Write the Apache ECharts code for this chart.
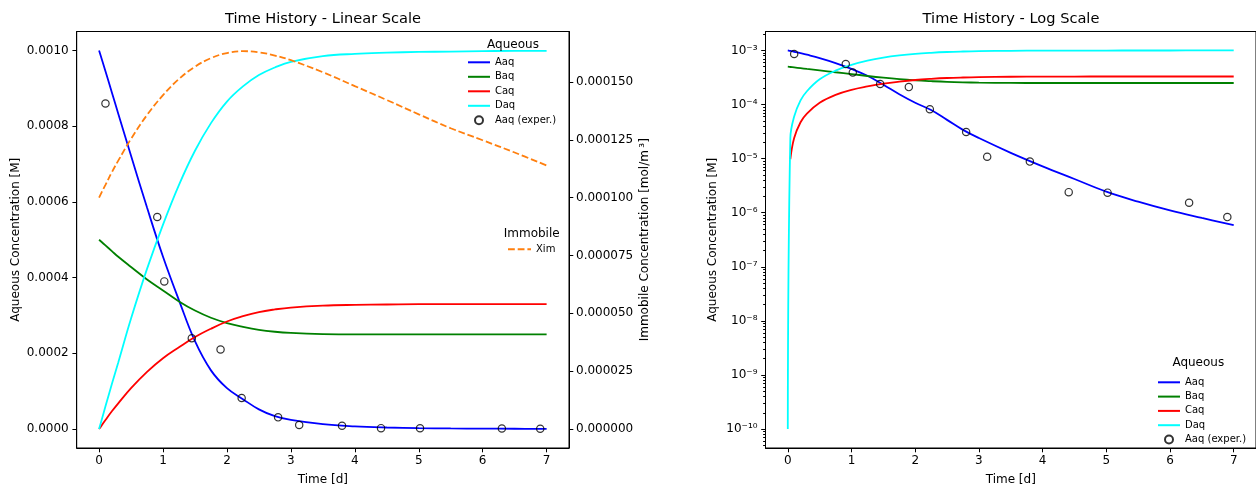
<!DOCTYPE html>
<html>
<head>
<meta charset="utf-8">
<title>Time History</title>
<script src="https://cdn.jsdelivr.net/npm/echarts@6/dist/echarts.min.js"></script>
<style>
  html, body { margin: 0; padding: 0; background: #fff; }
  #chart { width: 1256px; height: 491px; }
</style>
</head>
<body>
<div id="chart"></div>
<script>
// model output (time in days)
const days = [0, 0.04, 0.1, 0.2, 0.3, 0.5, 0.75, 1.0, 1.25, 1.5, 1.75, 2.0, 2.25, 2.5, 2.75, 3.0, 3.5, 4.0, 4.5, 5.0, 5.5, 6.0, 6.5, 7.0];
const aaq = [1.0e-3, 9.78e-4, 9.45e-4, 8.89e-4, 8.33e-4, 7.22e-4, 5.85e-4, 4.55e-4, 3.40e-4, 2.32e-4, 1.55e-4, 1.08e-4, 7.9e-5, 5.2e-5, 3.4e-5, 2.4e-5, 1.28e-5, 7.2e-6, 4.2e-6, 2.45e-6, 1.6e-6, 1.1e-6, 8.0e-7, 5.9e-7];
const baq = [5.0e-4, 4.94e-4, 4.85e-4, 4.70e-4, 4.55e-4, 4.28e-4, 3.95e-4, 3.66e-4, 3.37e-4, 3.13e-4, 2.94e-4, 2.80e-4, 2.70e-4, 2.62e-4, 2.57e-4, 2.54e-4, 2.51e-4, 2.50e-4, 2.50e-4, 2.50e-4, 2.50e-4, 2.50e-4, 2.50e-4, 2.50e-4];
const caq = [0, 9.8e-6, 2.4e-5, 4.7e-5, 6.8e-5, 1.08e-4, 1.51e-4, 1.87e-4, 2.16e-4, 2.43e-4, 2.65e-4, 2.84e-4, 2.98e-4, 3.09e-4, 3.16e-4, 3.21e-4, 3.26e-4, 3.28e-4, 3.29e-4, 3.30e-4, 3.30e-4, 3.30e-4, 3.30e-4, 3.30e-4];
const daq = [1e-10, 2.4e-5, 6.0e-5, 1.19e-4, 1.76e-4, 2.92e-4, 4.23e-4, 5.40e-4, 6.45e-4, 7.35e-4, 8.08e-4, 8.65e-4, 9.05e-4, 9.35e-4, 9.55e-4, 9.70e-4, 9.85e-4, 9.91e-4, 9.94e-4, 9.96e-4, 9.97e-4, 9.98e-4, 9.99e-4, 9.99e-4];
const xim = [1.0e-4, 1.023e-4, 1.055e-4, 1.11e-4, 1.16e-4, 1.254e-4, 1.357e-4, 1.443e-4, 1.513e-4, 1.566e-4, 1.603e-4, 1.625e-4, 1.633e-4, 1.628e-4, 1.614e-4, 1.594e-4, 1.542e-4, 1.482e-4, 1.422e-4, 1.36e-4, 1.30e-4, 1.248e-4, 1.195e-4, 1.139e-4];

// measured Aaq
const expDays = [0.1, 0.91, 1.02, 1.45, 1.9, 2.23, 2.8, 3.13, 3.8, 4.41, 5.02, 6.3, 6.9];
const expAaq = [8.6e-4, 5.6e-4, 3.9e-4, 2.4e-4, 2.1e-4, 8.2e-5, 3.1e-5, 1.08e-5, 8.8e-6, 2.4e-6, 2.35e-6, 1.53e-6, 8.3e-7];

// tick labels
const dayTicks = [0, 1, 2, 3, 4, 5, 6, 7];
const aqTicks = [0, 0.0002, 0.0004, 0.0006, 0.0008, 0.0010];
const imTicks = [0, 0.000025, 0.00005, 0.000075, 0.0001, 0.000125, 0.00015];
const logTicks = [1e-10, 1e-9, 1e-8, 1e-7, 1e-6, 1e-5, 1e-4, 1e-3];

const FONT = 'DejaVu Sans';
const black = '#000';
const clear = 'rgba(0,0,0,0)';

// minor ticks of the log axis (2..9 x 10^n)
const logMinor = [];
for (let e = -11; e <= -3; e++) {
    for (let m = 2; m <= 9; m++) logMinor.push(m * Math.pow(10, e));
}

const sup = { '-': '\u207b', '0': '\u2070', '1': '\u00b9', '2': '\u00b2', '3': '\u00b3', '4': '\u2074', '5': '\u2075', '6': '\u2076', '7': '\u2077', '8': '\u2078', '9': '\u2079' };
function powLabel(v) {
    const e = String(Math.round(Math.log10(v)));
    return '10' + e.split('').map(c => sup[c]).join('');
}

function pairs(xs, ys, positiveOnly) {
    const out = [];
    xs.forEach((x, i) => {
        if (!positiveOnly || ys[i] > 0) out.push([x, ys[i]]);
    });
    return out;
}

const chart = echarts.init(document.getElementById('chart'));

const axisLine = { show: true, onZero: false, lineStyle: { color: black, width: 1 } };
const tickStyle = { color: black, width: 1 };
const labelStyle = { color: black, fontSize: 12, fontFamily: FONT };
const nameStyle = { color: black, fontSize: 12, fontFamily: FONT };

function lineSeries(name, xi, yi, data, color, dash) {
    return {
        name: name,
        type: 'line',
        xAxisIndex: xi,
        yAxisIndex: yi,
        data: data,
        symbol: 'none',
        smooth: 0.4,
        lineStyle: { color: color, width: 1.8, type: dash || 'solid' },
        // transparent item colour keeps the legend icon a plain line
        itemStyle: { color: clear, borderColor: clear },
        z: 3
    };
}

function expSeries(xi, yi, data) {
    return {
        name: 'Aaq (exper.)',
        type: 'scatter',
        xAxisIndex: xi,
        yAxisIndex: yi,
        data: data,
        symbol: 'circle',
        symbolSize: 7.3,
        itemStyle: { color: clear, borderColor: black, borderWidth: 1.2 },
        z: 4
    };
}

const legendText = { color: black, fontSize: 10, lineHeight: 12, fontFamily: FONT };

var option = {
    animation: false,
    textStyle: { fontFamily: FONT },
    grid: [
        { left: 76.7, top: 31.5, width: 492.3, height: 421.7, show: true, borderColor: black, borderWidth: 1 },
        { left: 765.5, top: 31.5, width: 492.3, height: 421.7, show: true, borderColor: black, borderWidth: 1 }
    ],
    xAxis: [0, 1].map(g => ({
        gridIndex: g,
        type: 'value',
        min: -0.35,
        max: 7.35,
        axisLine: axisLine,
        axisTick: { customValues: dayTicks, length: 4.3, lineStyle: tickStyle },
        axisLabel: Object.assign({ customValues: dayTicks, margin: 7 }, labelStyle),
        splitLine: { show: false },
        name: 'Time [d]',
        nameLocation: 'middle',
        nameGap: 26,
        nameTextStyle: nameStyle
    })),
    yAxis: [
        {
            gridIndex: 0,
            type: 'value',
            min: -0.00005,
            max: 0.00105,
            axisLine: axisLine,
            axisTick: { customValues: aqTicks, length: 4.3, lineStyle: tickStyle },
            axisLabel: Object.assign({ customValues: aqTicks, margin: 8, formatter: v => v.toFixed(4) }, labelStyle),
            splitLine: { show: false },
            name: 'Aqueous Concentration [M]',
            nameLocation: 'middle',
            nameRotate: 90,
            nameGap: 55,
            nameTextStyle: nameStyle
        },
        {
            gridIndex: 0,
            type: 'value',
            position: 'right',
            min: -0.0000082,
            max: 0.0001718,
            axisLine: axisLine,
            axisTick: { customValues: imTicks, length: 4.3, lineStyle: tickStyle },
            axisLabel: Object.assign({ customValues: imTicks, margin: 7, formatter: v => v.toFixed(6) }, labelStyle),
            splitLine: { show: false },
            name: 'Immobile Concentration [mol/m\u2009\u00b3]',
            nameLocation: 'middle',
            nameRotate: 90,
            nameGap: 70,
            nameTextStyle: nameStyle
        },
        {
            gridIndex: 1,
            type: 'log',
            logBase: 10,
            min: Math.pow(10, -10.35),
            max: Math.pow(10, -2.65),
            axisLine: axisLine,
            axisTick: { customValues: logTicks, length: 4.3, lineStyle: tickStyle },
            axisLabel: Object.assign({ customValues: logTicks, margin: 8, formatter: powLabel }, labelStyle),
            splitLine: { show: false },
            name: 'Aqueous Concentration [M]',
            nameLocation: 'middle',
            nameRotate: 90,
            nameGap: 47,
            nameTextStyle: nameStyle
        },
        {
            // minor ticks only
            gridIndex: 1,
            type: 'log',
            logBase: 10,
            position: 'left',
            min: Math.pow(10, -10.35),
            max: Math.pow(10, -2.65),
            axisLine: { show: false, onZero: false },
            axisTick: { customValues: logMinor, length: 2.4, lineStyle: tickStyle },
            axisLabel: { show: false },
            splitLine: { show: false }
        }
    ],
    legend: [
        {
            data: ['Aaq', 'Baq', 'Caq', 'Daq', 'Aaq (exper.)'],
            orient: 'vertical', left: 467, top: 56.3, padding: 0,
            itemWidth: 22, itemHeight: 8, itemGap: 2.5,
            selectedMode: false, textStyle: legendText
        },
        {
            data: ['Xim'],
            orient: 'vertical', left: 507, top: 243.3, padding: 0,
            itemWidth: 23, itemHeight: 8,
            selectedMode: false, textStyle: legendText
        },
        {
            data: ['Aaq', 'Baq', 'Caq', 'Daq', 'Aaq (exper.)'],
            orient: 'vertical', left: 1157, top: 376.3, padding: 0,
            itemWidth: 22, itemHeight: 8, itemGap: 2.3,
            selectedMode: false, textStyle: legendText
        }
    ],
    graphic: [
        { type: 'text', x: 323, y: 19.3, z: 100, style: { text: 'Time History - Linear Scale', align: 'center', verticalAlign: 'middle', fontSize: 14.6, fontFamily: FONT, fill: black } },
        { type: 'text', x: 1011, y: 19.3, z: 100, style: { text: 'Time History - Log Scale', align: 'center', verticalAlign: 'middle', fontSize: 14.6, fontFamily: FONT, fill: black } },
        { type: 'text', x: 513, y: 45, z: 100, style: { text: 'Aqueous', align: 'center', verticalAlign: 'middle', fontSize: 12, fontFamily: FONT, fill: black } },
        { type: 'text', x: 531.7, y: 234, z: 100, style: { text: 'Immobile', align: 'center', verticalAlign: 'middle', fontSize: 12, fontFamily: FONT, fill: black } },
        { type: 'text', x: 1198.3, y: 363.3, z: 100, style: { text: 'Aqueous', align: 'center', verticalAlign: 'middle', fontSize: 12, fontFamily: FONT, fill: black } }
    ],
    series: [
        // linear scale
        lineSeries('Aaq', 0, 0, pairs(days, aaq), '#0000ff'),
        lineSeries('Baq', 0, 0, pairs(days, baq), '#008000'),
        lineSeries('Caq', 0, 0, pairs(days, caq), '#ff0000'),
        lineSeries('Daq', 0, 0, pairs(days, daq), '#00ffff'),
        expSeries(0, 0, pairs(expDays, expAaq)),
        lineSeries('Xim', 0, 1, pairs(days, xim), '#ff7f0e', [6.8, 2.9]),
        // log scale
        lineSeries('Aaq', 1, 2, pairs(days, aaq, true), '#0000ff'),
        lineSeries('Baq', 1, 2, pairs(days, baq, true), '#008000'),
        lineSeries('Caq', 1, 2, pairs(days, caq, true), '#ff0000'),
        lineSeries('Daq', 1, 2, pairs(days, daq, true), '#00ffff'),
        expSeries(1, 2, pairs(expDays, expAaq, true))
    ]
};

chart.setOption(option);
</script>
</body>
</html>
